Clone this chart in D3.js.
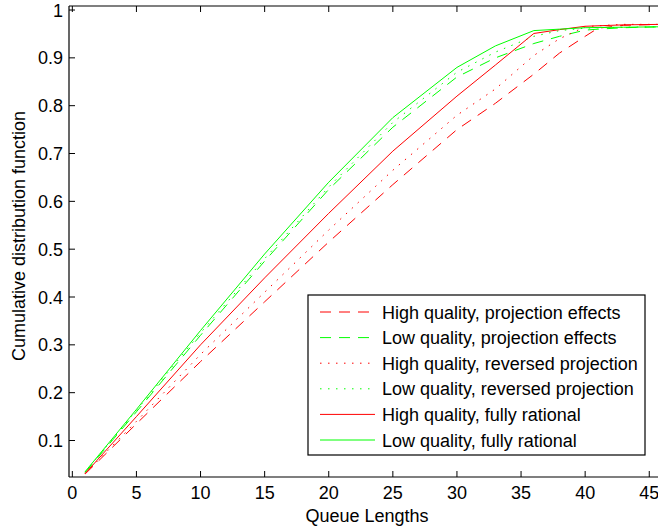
<!DOCTYPE html>
<html><head><meta charset="utf-8">
<script src="https://cdn.jsdelivr.net/npm/d3@7"></script>
<style>body{margin:0;background:#fff}svg{display:block}text{font-family:"Liberation Sans",Arial,Helvetica,sans-serif;fill:#000}</style>
</head><body>
<svg id="c" width="658" height="529"></svg>
<script>
const xs = [1, 5, 10, 15, 20, 25, 30, 33, 36, 38, 40, 41, 43, 46];
const hiProj    = [0.030, 0.135, 0.265, 0.390, 0.515, 0.635, 0.750, 0.805, 0.866, 0.910, 0.945, 0.962, 0.968, 0.970];
const loProj    = [0.033, 0.160, 0.320, 0.475, 0.625, 0.755, 0.860, 0.900, 0.930, 0.945, 0.958, 0.960, 0.963, 0.965];
const hiRev     = [0.031, 0.140, 0.280, 0.410, 0.540, 0.665, 0.780, 0.835, 0.905, 0.940, 0.965, 0.967, 0.970, 0.970];
const loRev     = [0.034, 0.163, 0.325, 0.480, 0.630, 0.765, 0.870, 0.912, 0.945, 0.957, 0.962, 0.963, 0.964, 0.965];
const hiRat     = [0.031, 0.150, 0.300, 0.440, 0.575, 0.705, 0.820, 0.885, 0.951, 0.959, 0.966, 0.967, 0.969, 0.970];
const loRat     = [0.035, 0.165, 0.330, 0.490, 0.640, 0.775, 0.880, 0.925, 0.957, 0.960, 0.963, 0.9635, 0.964, 0.965];
const seriesNames = ["High quality, projection effects","Low quality, projection effects","High quality, reversed projection","Low quality, reversed projection","High quality, fully rational","Low quality, fully rational"];
const seriesValues = [hiProj, loProj, hiRev, loRev, hiRat, loRat];
const seriesColors = ["#ff0000","#00ff00","#ff0000","#00ff00","#ff0000","#00ff00"];
const seriesDash = ["11,8","11,8","1.5,6.5","1.5,6.5",null,null];
const xTicks = [0,5,10,15,20,25,30,35,40,45];
const yTicks = [0.1,0.2,0.3,0.4,0.5,0.6,0.7,0.8,0.9,1];
const yTickLabels = ["0.1","0.2","0.3","0.4","0.5","0.6","0.7","0.8","0.9","1"];

const L = 69, R = 659, T = 6, B = 477;
const x = d3.scaleLinear().domain([-0.26, 45.76]).range([L, R]);
const y = d3.scaleLinear().domain([0.0237, 1.0084]).range([B, T]);
const svg = d3.select("#c");
const FS = 18;

svg.append("clipPath").attr("id","clip").append("rect").attr("x",L).attr("y",T).attr("width",R-L).attr("height",B-T);

const line = d3.line().x(d=>x(d[0])).y(d=>y(d[1]));
const g = svg.append("g").attr("clip-path","url(#clip)");
seriesValues.forEach((vals,i)=>{
  g.append("path").datum(xs.map((xv,j)=>[xv,vals[j]]))
   .attr("d",line).attr("fill","none").attr("stroke",seriesColors[i])
   .attr("stroke-width",1).attr("stroke-dasharray",seriesDash[i]);
});

// axes
const ax = svg.append("g").attr("stroke","#000").attr("stroke-width",1.2).attr("fill","none");
ax.append("line").attr("x1",L).attr("x2",R).attr("y1",B).attr("y2",B);
ax.append("line").attr("x1",L).attr("x2",R).attr("y1",T).attr("y2",T);
ax.append("line").attr("x1",L).attr("x2",L).attr("y1",T).attr("y2",B);
const tk = svg.append("g").attr("stroke","#000").attr("stroke-width",1);
xTicks.forEach(t=>{
  tk.append("line").attr("x1",x(t)).attr("x2",x(t)).attr("y1",B).attr("y2",B-6);
  tk.append("line").attr("x1",x(t)).attr("x2",x(t)).attr("y1",T).attr("y2",T+6);
});
yTicks.forEach(t=>{
  tk.append("line").attr("x1",L).attr("x2",L+6).attr("y1",y(t)).attr("y2",y(t));
});
svg.append("g").selectAll("text").data(xTicks).join("text")
  .attr("x",d=>x(d)).attr("y",499).attr("text-anchor","middle").attr("font-size",FS).text(d=>d);
svg.append("g").selectAll("text").data(yTicks).join("text")
  .attr("x",63).attr("y",d=>y(d)+6.5).attr("text-anchor","end").attr("font-size",FS).text((d,i)=>yTickLabels[i]);
svg.append("text").attr("x",367).attr("y",522).attr("text-anchor","middle").attr("font-size",FS).text("Queue Lengths");
svg.append("text").attr("transform","translate(25,236) rotate(-90)").attr("text-anchor","middle").attr("font-size",FS).text("Cumulative distribution function");

// legend
const lg = svg.append("g");
lg.append("rect").attr("x",308).attr("y",295).attr("width",337).attr("height",160).attr("fill","#fff").attr("stroke","#000").attr("stroke-width",1.2);
seriesNames.forEach((n,i)=>{
  const yy = 312 + i*25.6;
  lg.append("line").attr("x1",320).attr("x2",375).attr("y1",yy).attr("y2",yy)
    .attr("stroke",seriesColors[i]).attr("stroke-width",1).attr("stroke-dasharray",seriesDash[i]);
  lg.append("text").attr("x",382).attr("y",yy+6.5).attr("font-size",FS).text(n);
});
</script>
</body></html>
